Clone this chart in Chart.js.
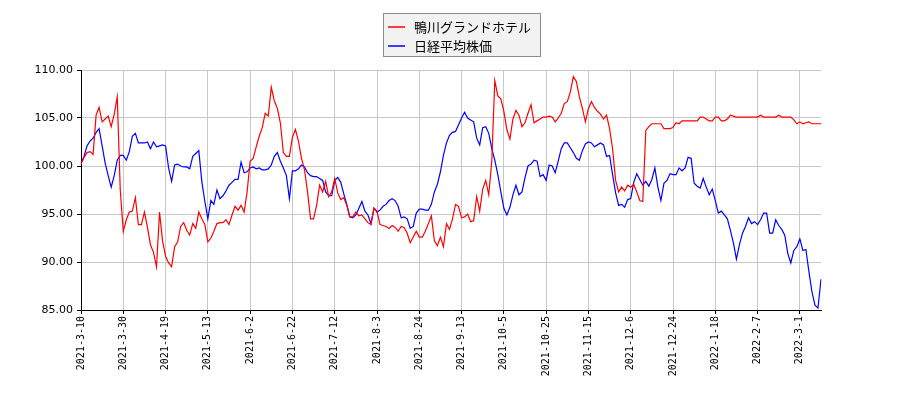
<!DOCTYPE html>
<html>
<head>
<meta charset="utf-8">
<script src="https://cdn.jsdelivr.net/npm/chart.js@4/dist/chart.umd.min.js"></script>
<style>
  body { margin: 0; background: #fff; }
  #chart { display: block; }
</style>
</head>
<body>
<canvas id="chart" width="900" height="400"></canvas>
<script>
// x軸に表示する日付（14営業日ごと）
const tickLabels = ['2021-3-10', '2021-3-30', '2021-4-19', '2021-5-13', '2021-6-2', '2021-6-22',
    '2021-7-12', '2021-8-3', '2021-8-24', '2021-9-13', '2021-10-5', '2021-10-25', '2021-11-15',
    '2021-12-6', '2021-12-24', '2022-1-18', '2022-2-7', '2022-3-1'];
const tickEvery = 14;

// 鴨川グランドホテル（相対値）
const kamogawa = [
    100.2, 100.9, 101.4, 101.5, 101.2, 105.3, 106.1, 104.6, 104.9, 105.2, 104.1, 105.4, 107.2, 97.5,
    93.2, 94.4, 95.2, 95.3, 96.7, 93.9, 93.9, 95.2, 93.6, 91.8, 91.0, 89.5, 95.2, 92.2,
    90.6, 89.9, 89.5, 91.6, 92.1, 93.7, 94.1, 93.3, 92.8, 94.0, 93.5, 95.2, 94.5, 93.9,
    92.1, 92.5, 93.2, 94.0, 94.1, 94.1, 94.4, 93.9, 94.9, 95.8, 95.4, 95.9, 95.2, 97.3,
    100.5, 100.8, 102.0, 103.1, 104.0, 105.5, 105.2, 108.2, 106.8, 106.0, 104.5, 101.4, 101.0, 101.0,
    103.0, 103.8, 102.6, 100.8, 99.6, 97.3, 94.5, 94.5, 95.9, 98.0, 97.3, 98.4, 96.8, 97.3,
    98.7, 97.2, 96.5, 96.7, 95.9, 94.7, 94.7, 95.2, 94.8, 94.9, 94.5, 94.1, 93.9, 95.6,
    95.3, 93.9, 93.8, 93.7, 93.5, 93.8, 93.6, 93.2, 93.7, 93.6, 93.0, 92.0, 92.6, 93.2,
    92.6, 92.6, 93.2, 94.0, 94.8, 92.2, 91.7, 92.6, 91.6, 94.0, 93.4, 94.5, 96.0, 95.8,
    94.6, 94.7, 95.0, 94.2, 94.3, 96.8, 95.3, 97.6, 98.5, 97.0, 100.5, 108.9, 107.3, 107.0,
    105.7, 103.8, 102.8, 104.9, 105.8, 105.3, 104.1, 104.5, 105.5, 106.4, 104.5, 104.7, 104.9, 105.1,
    105.1, 105.2, 105.1, 104.6, 105.0, 105.5, 106.5, 106.7, 107.7, 109.3, 108.8, 107.2, 106.0, 104.6,
    106.0, 106.7, 106.1, 105.7, 105.4, 104.9, 105.3, 103.9, 101.8, 98.5, 97.3, 97.8, 97.4, 98.0,
    97.8, 98.1, 97.3, 96.4, 96.3, 103.7, 104.1, 104.4, 104.4, 104.4, 104.4, 103.9, 103.9, 103.9,
    104.0, 104.5, 104.4, 104.7, 104.7, 104.7, 104.7, 104.7, 104.7, 105.1, 105.1, 104.9, 104.7, 104.7,
    105.1, 105.1, 104.7, 104.7, 104.9, 105.3, 105.2, 105.1, 105.1, 105.1, 105.1, 105.1, 105.1, 105.1,
    105.1, 105.3, 105.1, 105.1, 105.1, 105.1, 105.1, 105.3, 105.1, 105.1, 105.1, 105.1, 104.8, 104.4,
    104.6, 104.4, 104.5, 104.6, 104.4, 104.4, 104.4, 104.4
];

// 日経平均株価（相対値）
const nikkei = [
    100.3, 101.0, 102.1, 102.6, 102.9, 103.5, 103.9, 102.1, 100.3, 99.0, 97.8, 99.0, 100.6, 101.1,
    101.1, 100.6, 101.5, 103.1, 103.4, 102.4, 102.4, 102.4, 102.5, 101.8, 102.5, 102.0, 102.1, 102.2,
    102.1, 99.8, 98.4, 100.1, 100.2, 100.0, 99.9, 99.9, 99.7, 101.0, 101.3, 101.6, 98.4, 96.3,
    94.5, 96.4, 96.0, 97.5, 96.6, 96.9, 97.4, 98.0, 98.3, 98.6, 98.6, 100.4, 99.3, 99.4,
    99.8, 99.9, 99.7, 99.8, 99.6, 99.6, 99.7, 100.1, 101.0, 101.4, 100.5, 99.8, 99.0, 96.6,
    99.5, 99.5, 99.7, 100.1, 99.9, 99.3, 99.0, 98.9, 98.9, 98.7, 98.5, 97.3, 96.9, 96.9,
    98.5, 98.8, 98.3, 97.1, 96.0, 94.7, 94.6, 94.9, 95.6, 96.3, 95.3, 94.9, 94.0, 95.6,
    95.2, 95.4, 95.8, 96.0, 96.4, 96.6, 96.4, 95.8, 94.6, 94.7, 94.5, 93.5, 93.7, 95.1,
    95.5, 95.5, 95.4, 95.4, 96.0, 97.3, 98.1, 99.4, 101.1, 102.4, 103.2, 103.5, 103.6, 104.3,
    105.0, 105.6, 105.0, 104.8, 104.6, 102.9, 102.2, 104.0, 104.1, 103.4, 101.8, 100.6, 99.1, 97.3,
    95.6, 94.9, 95.7, 97.0, 98.0, 97.0, 97.3, 98.8, 100.0, 100.2, 100.6, 100.5, 98.9, 99.1,
    98.5, 100.1, 100.0, 99.3, 100.5, 101.8, 102.4, 102.4, 101.9, 101.4, 100.8, 100.6, 101.6, 102.3,
    102.5, 102.4, 102.0, 102.2, 102.4, 102.2, 101.0, 101.1, 99.1, 97.2, 95.9, 96.0, 95.7, 96.5,
    96.6, 98.3, 99.2, 98.6, 98.0, 98.4, 97.9, 98.6, 99.8, 97.8, 96.4, 98.2, 98.5, 99.2,
    99.1, 99.1, 99.8, 99.5, 99.8, 100.9, 100.8, 98.2, 97.9, 97.7, 98.7, 97.8, 97.0, 97.6,
    96.4, 95.1, 95.3, 94.9, 94.5, 93.3, 92.0, 90.3, 91.8, 93.0, 93.7, 94.6, 94.0, 94.2,
    93.9, 94.4, 95.1, 95.1, 93.0, 93.0, 94.4, 93.8, 93.4, 92.8, 90.9, 89.9, 91.2, 91.6,
    92.4, 91.2, 91.3, 89.0, 86.9, 85.5, 85.2, 88.2
];

const categories = kamogawa.map((_, i) => i);

// 枠付きの凡例を自前で描く
const boxLegend = {
    id: 'boxLegend',
    afterDraw(chart) {
        const ctx = chart.ctx;
        const x = 383.5, y = 13.5, w = 157, h = 43;
        ctx.save();
        ctx.fillStyle = '#f2f2f2';
        ctx.strokeStyle = '#8c8c8c';
        ctx.lineWidth = 1;
        ctx.fillRect(x, y, w, h);
        ctx.strokeRect(x, y, w, h);
        ctx.font = '13px "Noto Sans CJK JP", "Noto Sans", sans-serif';
        ctx.textBaseline = 'middle';
        chart.data.datasets.forEach((ds, i) => {
            const rowY = 27 + i * 19;
            ctx.strokeStyle = ds.borderColor;
            ctx.lineWidth = 1.5;
            ctx.beginPath();
            ctx.moveTo(388, rowY);
            ctx.lineTo(405, rowY);
            ctx.stroke();
            ctx.fillStyle = '#000';
            ctx.fillText(ds.label, 414, rowY);
        });
        ctx.restore();
    }
};

new Chart(document.getElementById('chart'), {
    type: 'line',
    data: {
        labels: categories,
        datasets: [{
            label: '鴨川グランドホテル',
            data: kamogawa,
            borderColor: '#ff0000',
            borderWidth: 1.2,
            pointRadius: 0,
            tension: 0,
            fill: false
        }, {
            label: '日経平均株価',
            data: nikkei,
            borderColor: '#0000ff',
            borderWidth: 1.2,
            pointRadius: 0,
            tension: 0,
            fill: false
        }]
    },
    options: {
        responsive: false,
        animation: false,
        devicePixelRatio: 1,
        layout: { padding: { top: 70, right: 79, left: 0, bottom: 0 } },
        plugins: {
            legend: { display: false },
            tooltip: { enabled: false }
        },
        scales: {
            x: {
                type: 'category',
                offset: false,
                afterFit: s => { s.height = 90; },
                grid: { color: '#c8c8c8', tickColor: '#000', tickLength: 4, drawOnChartArea: true },
                border: { color: '#000', width: 1 },
                ticks: {
                    autoSkip: false,
                    minRotation: 90,
                    maxRotation: 90,
                    padding: 2,
                    color: '#000',
                    font: { family: '"DejaVu Sans Mono", monospace', size: 10 },
                    callback: (v, i) => i % tickEvery === 0 ? tickLabels[i / tickEvery] : null
                }
            },
            y: {
                min: 85,
                max: 110,
                afterFit: s => { s.width = 81; },
                grid: { color: '#c8c8c8', tickColor: '#000', tickLength: 4 },
                border: { color: '#000', width: 1 },
                ticks: {
                    stepSize: 5,
                    padding: 4,
                    color: '#000',
                    font: { family: '"DejaVu Sans", sans-serif', size: 11 },
                    callback: v => v.toFixed(2)
                }
            }
        }
    },
    plugins: [boxLegend]
});
</script>
</body>
</html>
